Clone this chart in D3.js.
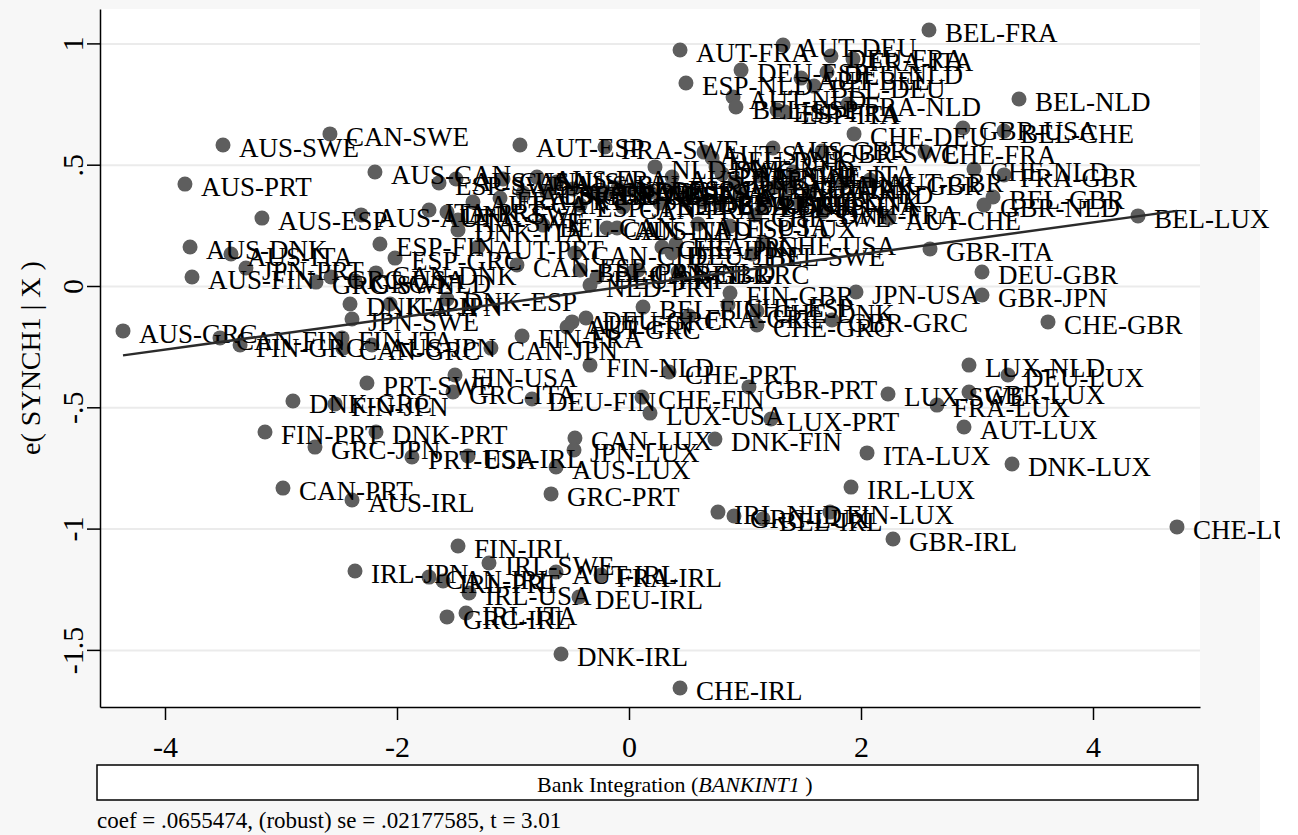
<!DOCTYPE html>
<html>
<head>
<meta charset="utf-8">
<script src="https://cdn.jsdelivr.net/npm/d3@7"></script>
<style>
  body { margin: 0; background: #fff; }
  text { font-family: "Liberation Serif", "Times New Roman", serif; fill: #000; }
</style>
</head>
<body>
<script>
// country pairs, residual of bank integration (x) and residual of synchronisation (y)
var pairNames = [
  "AUS-SWE","CAN-SWE","AUS-PRT","AUS-CAN","AUS-ESP","AUS-AUT","AUS-DNK","AUS-ITA","JPN-PRT","AUS-FIN",
  "GRC-SWE","CAN-DNK","ESP-FIN","ESP-GRC","DNK-JPN","ITA-JPN","DNK-ESP","JPN-SWE","AUS-GRC","CAN-FIN",
  "FIN-GRC","FIN-ITA","CAN-GRC","AUS-JPN","FIN-USA","GRC-ITA","PRT-SWE","DNK-GRC","FIN-JPN","FIN-PRT",
  "DNK-PRT","GRC-JPN","PRT-USA","ESP-IRL","CAN-PRT","AUS-IRL","FIN-IRL","IRL-JPN","CAN-IRL","IRL-PRT",
  "IRL-USA","GRC-IRL","IRL-ITA","AUS-LUX","GRC-PRT","IRL-NLD","GRC-LUX","BEL-IRL","FIN-LUX","IRL-SWE",
  "AUT-IRL","FRA-IRL","DEU-IRL","DNK-IRL","CHE-IRL","IRL-LUX","GBR-IRL","CHE-LUX","DNK-LUX","GBR-ITA",
  "DEU-GBR","JPN-USA","GBR-JPN","CHE-GBR","LUX-NLD","DEU-LUX","LUX-SWE","GBR-LUX","FRA-LUX","AUT-LUX",
  "ITA-LUX","GBR-GRC","CHE-DNK","CHE-GRC","FIN-NLD","CHE-PRT","GBR-PRT","DEU-FIN","CHE-FIN","LUX-USA",
  "LUX-PRT","CAN-LUX","DNK-FIN","JPN-LUX","FIN-FRA","CAN-JPN","AUT-FIN","DEU-GRC","AUT-GRC","BEL-FIN",
  "FIN-GBR","CHE-ESP","FRA-GRC","CHE-USA","BEL-SWE","BEL-GRC","AUT-PRT","CAN-ESP","NLD-PRT","BEL-FRA",
  "AUT-FRA","AUT-DEU","DEU-FRA","FRA-ITA","DEU-NLD","DEU-ESP","ESP-NLD","BEL-DEU","AUT-BEL","AUT-NLD",
  "BEL-ESP","ESP-FRA","ESP-ITA","FRA-NLD","BEL-NLD","GBR-USA","BEL-CHE","CHE-DEU","CHE-FRA","AUS-GBR",
  "GBR-SWE","CHE-NLD","FRA-GBR","BEL-GBR","GBR-NLD","AUT-CHE","BEL-LUX","CHE-ITA","AUT-ESP","FRA-SWE",
  "NLD-SWE","CAN-FRA","DNK-ITA","ESP-SWE","AUS-USA","BEL-CAN","CAN-ITA","AUS-NLD","ITA-PRT","DNK-SWE",
  "ITA-SWE","GRC-USA","GRC-NLD","AUT-SWE","DEU-DNK","DNK-NLD","DEU-SWE","DNK-GBR","AUT-GBR","DEU-ITA",
  "ITA-NLD","AUT-ITA","AUT-DNK","BEL-ITA","DNK-FRA","CHE-SWE","FIN-SWE","DEU-USA","BEL-DNK","AUT-USA",
  "AUS-DEU","ESP-PRT","CAN-USA","AUS-FRA","AUS-BEL","AUS-CHE","ESP-USA","CAN-DEU","ESP-GBR","FRA-USA",
  "NLD-USA","SWE-USA","AUT-CAN","CAN-CHE","BEL-PRT","DEU-PRT","CAN-GBR","CAN-NLD","CHE-JPN","DEU-JPN",
  "FRA-JPN","ITA-USA","BEL-USA","DNK-USA","JPN-NLD","AUT-JPN","BEL-JPN","ESP-JPN","FRA-PRT","ESP-LUX"
];
var bankInt = [
  -3.500,-2.578,-3.828,-2.190,-3.164,-2.310,-3.784,-3.431,-3.302,-3.767,
  -2.698,-2.181,-2.147,-2.017,-2.405,-2.060,-1.569,-2.388,-4.362,-3.526,
  -3.353,-2.474,-2.466,-2.216,-1.500,-1.517,-2.259,-2.897,-2.534,-3.138,
  -2.181,-2.707,-1.871,-1.388,-2.983,-2.388,-1.474,-2.362,-1.724,-1.603,
  -1.379,-1.569,-1.405,-0.629,-0.672,0.767,0.905,1.155,1.733,-1.207,
  -0.629,-0.241,-0.431,-0.586,0.440,1.914,2.276,4.724,3.302,2.595,
  3.043,1.957,3.043,3.612,2.931,3.267,2.233,2.931,2.655,2.888,
  2.052,1.750,1.103,1.103,-0.336,0.345,1.034,-0.836,0.112,0.181,
  1.224,-0.466,0.741,-0.474,-0.922,-1.190,-0.491,-0.371,-0.534,0.121,
  0.871,0.853,0.517,1.155,1.060,0.422,-1.302,-0.966,-0.336,2.586,
  0.440,1.328,1.741,1.931,1.707,0.966,0.491,1.595,1.483,0.897,
  0.922,1.276,1.345,1.888,3.362,2.879,3.233,1.940,2.552,1.241,
  1.664,2.974,3.233,3.138,3.060,2.241,4.388,1.414,-0.940,-0.207,
  0.224,-0.052,-1.474,-1.638,-1.491,-0.741,-0.190,-0.103,-1.724,-1.569,
  -1.474,-2.569,-2.362,0.647,0.716,0.750,0.802,1.845,2.078,1.259,
  1.560,0.957,1.345,1.474,1.672,1.086,0.483,0.638,0.784,0.595,
  0.371,0.371,-1.086,-0.793,-0.621,-0.914,-0.707,-0.483,-0.310,-0.207,
  -0.095,0.009,-1.345,-0.466,-0.422,-0.276,0.034,0.078,0.284,0.371,
  0.405,0.181,0.267,0.914,1.129,1.388,1.155,-0.422,-1.112,0.871
];
var synch = [
  0.581,0.627,0.420,0.470,0.280,0.293,0.161,0.132,0.074,0.037,
  0.016,0.054,0.173,0.115,-0.074,-0.074,-0.054,-0.136,-0.185,-0.214,
  -0.243,-0.214,-0.256,-0.243,-0.367,-0.437,-0.400,-0.474,-0.486,-0.602,
  -0.602,-0.664,-0.705,-0.701,-0.833,-0.882,-1.072,-1.175,-1.200,-1.216,
  -1.265,-1.364,-1.348,-0.746,-0.857,-0.932,-0.948,-0.960,-0.932,-1.142,
  -1.179,-1.191,-1.282,-1.517,-1.657,-0.829,-1.043,-0.993,-0.734,0.153,
  0.058,-0.025,-0.037,-0.148,-0.326,-0.367,-0.445,-0.437,-0.491,-0.581,
  -0.688,-0.140,-0.103,-0.161,-0.326,-0.354,-0.416,-0.466,-0.458,-0.524,
  -0.548,-0.627,-0.631,-0.676,-0.206,-0.256,-0.148,-0.132,-0.169,-0.087,
  -0.029,-0.078,-0.124,0.177,0.132,0.058,0.161,0.087,0.004,1.055,
  0.973,0.993,0.948,0.936,0.882,0.890,0.837,0.824,0.857,0.779,
  0.738,0.725,0.717,0.750,0.771,0.651,0.639,0.627,0.552,0.569,
  0.556,0.482,0.458,0.367,0.334,0.280,0.289,0.470,0.581,0.573,
  0.491,0.326,0.231,0.425,0.441,0.251,0.239,0.239,0.313,0.305,
  0.272,0.037,0.021,0.552,0.528,0.491,0.462,0.425,0.437,0.408,
  0.387,0.375,0.354,0.342,0.305,0.293,0.354,0.346,0.342,0.256,
  0.449,0.408,0.441,0.449,0.429,0.383,0.387,0.400,0.383,0.387,
  0.404,0.396,0.346,0.136,0.066,0.037,0.058,0.066,0.161,0.136,
  0.173,0.387,0.342,0.429,0.453,0.412,0.334,0.334,0.363,0.247
];
var coef = 0.0655474;
var xTicks = [-4, -2, 0, 2, 4];
var xTickLabels = ["-4", "-2", "0", "2", "4"];
var yTicks = [-1.5, -1, -0.5, 0, 0.5, 1];
var yTickLabels = ["-1.5", "-1", "-.5", "0", ".5", "1"];

var data = pairNames.map(function(d, i) {
  return {name: d, x: bankInt[i], y: synch[i]};
});

var W = 1298, H = 835;
var plot = {left: 100, right: 1200, top: 9, bottom: 707};

var svg = d3.select("body").append("svg")
    .attr("width", W)
    .attr("height", H);

// graph region and plot region
svg.append("rect").attr("width", 1260).attr("height", H).attr("fill", "#f7f7f7");
svg.append("rect")
    .attr("x", plot.left).attr("y", plot.top)
    .attr("width", plot.right - plot.left).attr("height", plot.bottom - plot.top)
    .attr("fill", "#fff");

var xScale = d3.scaleLinear().domain([-529 / 116, 571 / 116]).range([plot.left, plot.right]);
var yScale = d3.scaleLinear().domain([-421 / 242.6, 277 / 242.6]).range([plot.bottom, plot.top]);

// horizontal grid
svg.append("g")
    .attr("transform", "translate(" + plot.left + ",0)")
    .call(d3.axisLeft(yScale).tickValues(yTicks).tickSize(-(plot.right - plot.left)).tickFormat(""))
    .call(function(g) {
      g.select(".domain").remove();
      g.selectAll("line").attr("stroke", "#ebebeb").attr("stroke-width", 2);
    });

svg.append("clipPath").attr("id", "clip")
  .append("rect").attr("width", 1280).attr("height", H);

var marks = svg.append("g").attr("clip-path", "url(#clip)");

// dots
marks.selectAll(".dot")
    .data(data)
    .enter()
    .append("circle")
    .attr("class", "dot")
    .attr("cx", function(d) { return xScale(d.x); })
    .attr("cy", function(d) { return yScale(d.y); })
    .attr("r", 7.5)
    .attr("fill", "#5e5e5e");

// marker labels, to the right of each dot
marks.selectAll(".lbl")
    .data(data)
    .enter()
    .append("text")
    .attr("class", "lbl")
    .attr("x", function(d) { return xScale(d.x) + 16; })
    .attr("y", function(d) { return yScale(d.y) + 12; })
    .style("font-size", "27px")
    .text(function(d) { return d.name; });

// fitted line
var xExt = d3.extent(bankInt);
var line = d3.line()
    .x(function(d) { return xScale(d); })
    .y(function(d) { return yScale(coef * d); });
svg.append("path")
    .attr("d", line(xExt))
    .attr("fill", "none")
    .attr("stroke", "#2b2b2b")
    .attr("stroke-width", 2.5);

// y axis
var yAxis = d3.axisLeft(yScale)
    .tickValues(yTicks)
    .tickSize(13)
    .tickSizeOuter(0)
    .tickFormat(function(d, i) { return yTickLabels[i]; });
svg.append("g")
    .attr("transform", "translate(" + plot.left + ",0)")
    .call(yAxis)
    .call(function(g) {
      g.select(".domain").attr("stroke", "#000").attr("stroke-width", 1.5);
      g.selectAll("line").attr("stroke", "#000").attr("stroke-width", 1.5);
      g.selectAll("text")
        .attr("x", null).attr("dy", null)
        .attr("text-anchor", "middle")
        .attr("transform", "translate(-17,0) rotate(-90)")
        .attr("fill", "#000")
        .style("font-size", "30px")
        .style("font-family", "'Liberation Serif', 'Times New Roman', serif");
    });

// x axis
var xAxis = d3.axisBottom(xScale)
    .tickValues(xTicks)
    .tickSize(13)
    .tickSizeOuter(0)
    .tickFormat(function(d, i) { return xTickLabels[i]; });
svg.append("g")
    .attr("transform", "translate(0," + plot.bottom + ")")
    .call(xAxis)
    .call(function(g) {
      g.select(".domain").attr("stroke", "#000").attr("stroke-width", 1.5);
      g.selectAll("line").attr("stroke", "#000").attr("stroke-width", 1.5);
      g.selectAll("text")
        .attr("y", 50).attr("dy", null)
        .attr("fill", "#000")
        .style("font-size", "30px")
        .style("font-family", "'Liberation Serif', 'Times New Roman', serif");
    });

// y title
svg.append("text")
    .attr("transform", "translate(40,358) rotate(-90)")
    .attr("text-anchor", "middle")
    .style("font-size", "28px")
    .text("e( SYNCH1 | X )");

// x title box
svg.append("rect")
    .attr("x", 97).attr("y", 765)
    .attr("width", 1101).attr("height", 35)
    .attr("fill", "#fff")
    .attr("stroke", "#000")
    .attr("stroke-width", 1.5);
var xt = svg.append("text")
    .attr("x", 537).attr("y", 792)
    .style("font-size", "22px");
xt.append("tspan").text("Bank Integration (");
xt.append("tspan").style("font-style", "italic").text("BANKINT1");
xt.append("tspan").text(" )");

// note
svg.append("text")
    .attr("x", 97).attr("y", 828)
    .style("font-size", "23px")
    .text("coef = .0655474, (robust) se = .02177585, t = 3.01");
</script>
</body>
</html>
